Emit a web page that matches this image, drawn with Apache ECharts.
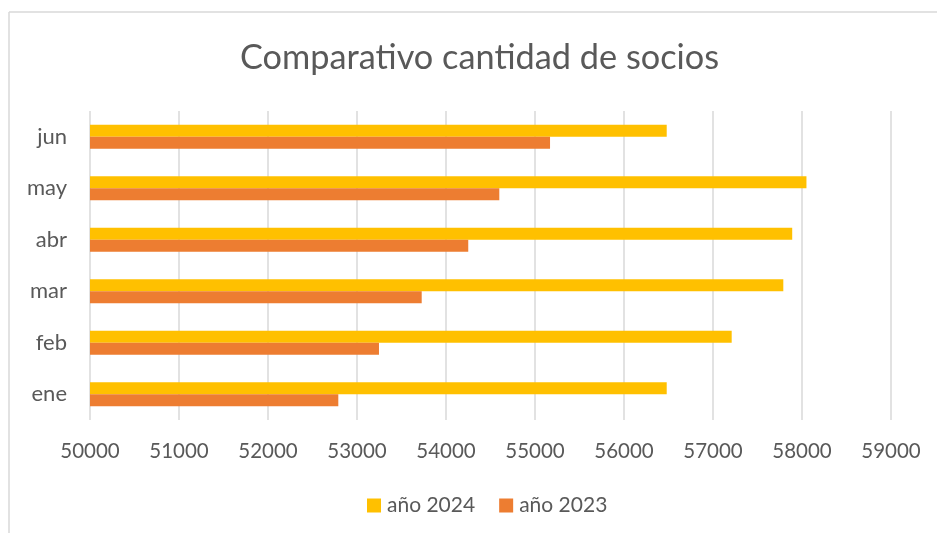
<!DOCTYPE html>
<html>
<head>
<meta charset="utf-8">
<script src="https://cdn.jsdelivr.net/npm/echarts@6/dist/echarts.min.js"></script>
<style>
  html, body { margin: 0; padding: 0; background: #fff; }
  #chart { width: 937px; height: 533px; }
</style>
</head>
<body>
<div id="chart"></div>
<script>
const months = ['ene', 'feb', 'mar', 'abr', 'may', 'jun']
const socios2024 = [56480, 57210, 57790, 57890, 58050, 56480]
const socios2023 = [52790, 53247, 53727, 54250, 54599, 55169]
const axisMin = 50000
const axisMax = 59000
const axisStep = 1000

const textColor = '#595959'
const fontFamily = 'Lato, "Open Sans", sans-serif'

const chart = echarts.init(document.getElementById('chart'))

chart.setOption({
  animation: false,
  title: {
    text: 'Comparativo cantidad de socios',
    left: 235,
    top: 36,
    textStyle: { color: textColor, fontFamily, fontSize: 34.3, fontWeight: 'normal' },
  },
  legend: {
    bottom: 12,
    left: 362,
    icon: 'rect',
    itemWidth: 14,
    itemHeight: 14,
    itemGap: 24,
    textStyle: { color: textColor, fontFamily, fontSize: 21, padding: [0, 0, 0, 1] },
  },
  graphic: [
    { type: 'line', shape: { x1: 9, y1: 12, x2: 937, y2: 12 }, style: { stroke: '#d9d9d9', lineWidth: 1.5 } },
    { type: 'line', shape: { x1: 9, y1: 12, x2: 9, y2: 533 }, style: { stroke: '#d9d9d9', lineWidth: 1.5 } },
  ],
  grid: { left: 90, right: 46, top: 111, bottom: 113, containLabel: false },
  xAxis: {
    type: 'value',
    min: axisMin,
    max: axisMax,
    interval: axisStep,
    axisLine: { show: false },
    axisTick: { show: false },
    splitLine: { lineStyle: { color: '#d9d9d9', width: 1.5 } },
    axisLabel: {
      color: textColor,
      fontFamily,
      fontSize: 20.5,
      margin: 21,
      formatter: (value) => String(value),
    },
  },
  yAxis: {
    type: 'category',
    data: months,
    axisLine: { show: false },
    axisTick: { show: false },
    axisLabel: { color: textColor, fontFamily, fontSize: 22, margin: 23 },
  },
  series: [
    {
      name: 'año 2024',
      type: 'bar',
      data: socios2024,
      barWidth: 12,
      barGap: '0%',
      itemStyle: { color: '#FFC000' },
    },
    {
      name: 'año 2023',
      type: 'bar',
      data: socios2023,
      barWidth: 12,
      barGap: '0%',
      itemStyle: { color: '#ED7D31' },
    },
  ],
})
</script>
</body>
</html>
